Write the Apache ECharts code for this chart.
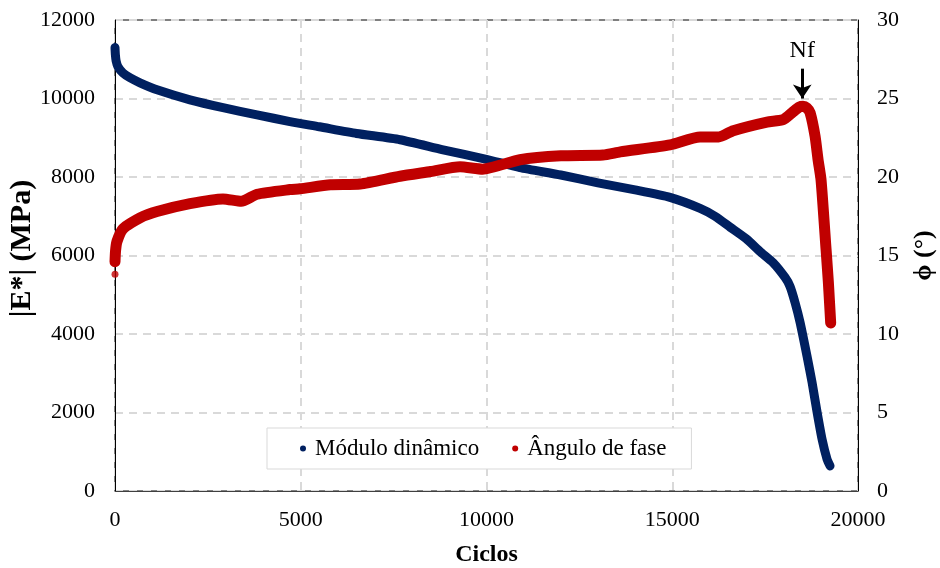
<!DOCTYPE html>
<html>
<head>
<meta charset="utf-8">
<title>Módulo dinâmico e ângulo de fase</title>
<script src="https://cdn.jsdelivr.net/npm/echarts@6/dist/echarts.min.js"></script>
<style>
  html, body { margin: 0; padding: 0; background: #fff; }
  #chart { width: 940px; height: 568px; }
</style>
</head>
<body>
<div id="chart"></div>
<script>
// Dynamic modulus |E*| (MPa) against number of cycles
const cyclesModulus = [0, 10, 30, 80, 215, 400, 673, 1131, 2019, 2907, 3823, 4711, 5500, 6500, 7672, 8800, 10000, 10900, 12000, 13000, 14000, 14940, 15750, 16150, 16560, 17000, 17363, 17713, 18037, 18171, 18306, 18440, 18629, 18763, 18898, 19032, 19167, 19248];
const modulusMPa = [11300, 11120, 10960, 10810, 10650, 10530, 10400, 10220, 9965, 9765, 9585, 9410, 9280, 9110, 8950, 8700, 8450, 8240, 8050, 7850, 7670, 7480, 7200, 7000, 6720, 6420, 6100, 5820, 5440, 5211, 4800, 4300, 3430, 2770, 2010, 1320, 810, 640];

// Phase angle (degrees) against number of cycles
const cyclesPhase = [0, 15, 54, 215, 673, 1131, 2019, 2907, 3400, 3823, 4711, 4980, 5800, 6600, 7672, 8500, 9287, 9900, 10900, 12000, 13137, 13600, 14940, 15750, 16250, 16640, 17551, 17982, 18250, 18420, 18520, 18620, 18710, 18844, 18925, 19006, 19140, 19202, 19229, 19265];
const phaseDeg = [14.6, 15.3, 15.9, 16.7, 17.4, 17.8, 18.3, 18.6, 18.45, 18.9, 19.2, 19.25, 19.5, 19.55, 20.05, 20.35, 20.65, 20.5, 21.1, 21.35, 21.4, 21.6, 22.05, 22.55, 22.55, 22.95, 23.5, 23.65, 24.15, 24.45, 24.5, 24.4, 24.1, 22.6, 21.1, 19.8, 15.4, 13.3, 12.2, 10.7];

// First reading of the phase angle, detached from the rest
const phaseFirst = [[0, 13.8]];

// Failure point Nf
const nfCycle = 18500;
const nfArrowFrom = 26.9;
const nfArrowTo = 25.0;

const xTicks = { min: 0, max: 20000, interval: 5000 };
const leftTicks = { min: 0, max: 12000, interval: 2000 };
const rightTicks = { min: 0, max: 30, interval: 5 };

const BLUE = '#002060';
const RED = '#c00000';
const FONT = 'Liberation Serif';

const chart = echarts.init(document.getElementById('chart'), null, { renderer: 'canvas' });

const gridLine = { show: true, lineStyle: { color: '#d9d9d9', width: 2, type: [8, 6] } };
const plain = v => String(v);

chart.setOption({
  animation: false,
  textStyle: { fontFamily: FONT, color: '#000' },
  grid: {
    left: 115, right: 82, top: 20, bottom: 77,
    containLabel: false,
    outerBoundsMode: 'none',
    show: true, borderColor: '#000', borderWidth: 1, backgroundColor: 'transparent'
  },
  legend: {
    left: 267, top: 428,
    padding: [9, 25, 9, 33],
    itemGap: 33,
    icon: 'circle',
    itemWidth: 14, itemHeight: 6,
    symbolKeepAspect: true,
    borderColor: '#d9d9d9', borderWidth: 1,
    backgroundColor: '#fff',
    textStyle: { fontFamily: FONT, fontSize: 23, color: '#000' },
    data: ['Módulo dinâmico', 'Ângulo de fase']
  },
  xAxis: {
    type: 'value',
    min: xTicks.min, max: xTicks.max, interval: xTicks.interval,
    name: 'Ciclos', nameLocation: 'middle', nameGap: 52, nameMoveOverlap: false,
    nameTextStyle: { fontFamily: FONT, fontSize: 24, fontWeight: 'bold', color: '#000' },
    axisLine: { show: true, lineStyle: { color: '#404040', width: 1 } },
    axisTick: { show: false },
    axisLabel: { fontFamily: FONT, fontSize: 22, color: '#000', margin: 18, formatter: plain },
    splitLine: gridLine
  },
  yAxis: [
    {
      type: 'value', position: 'left',
      min: leftTicks.min, max: leftTicks.max, interval: leftTicks.interval,
      name: '|E*| (MPa)', nameLocation: 'middle', nameGap: 78, nameRotate: 90, nameMoveOverlap: false,
      nameTextStyle: { fontFamily: FONT, fontSize: 30, fontWeight: 'bold', color: '#000', padding: [0, 0, 0, 14] },
      axisLine: { show: true, lineStyle: { color: '#000', width: 1 } },
      axisTick: { show: false },
      axisLabel: { fontFamily: FONT, fontSize: 22, color: '#000', margin: 20, formatter: plain },
      splitLine: gridLine
    },
    {
      type: 'value', position: 'right',
      min: rightTicks.min, max: rightTicks.max, interval: rightTicks.interval,
      name: 'ϕ (°)', nameLocation: 'middle', nameGap: 53, nameRotate: 90, nameMoveOverlap: false,
      nameTextStyle: { fontFamily: FONT, fontSize: 26, fontWeight: 'bold', color: '#000' },
      axisLine: { show: true, lineStyle: { color: '#000', width: 1 } },
      axisTick: { show: false },
      axisLabel: { fontFamily: FONT, fontSize: 22, color: '#000', margin: 19, formatter: plain },
      splitLine: { show: false }
    }
  ],
  series: [
    {
      name: 'Módulo dinâmico',
      type: 'line',
      yAxisIndex: 0,
      data: cyclesModulus.map((c, i) => [c, modulusMPa[i]]),
      smooth: 0.2,
      showSymbol: false,
      symbol: 'circle',
      color: BLUE,
      lineStyle: { color: BLUE, width: 9, cap: 'round', join: 'round' },
      z: 2
    },
    {
      name: 'Ângulo de fase',
      type: 'line',
      yAxisIndex: 1,
      data: cyclesPhase.map((c, i) => [c, phaseDeg[i]]),
      smooth: 0.2,
      showSymbol: false,
      symbol: 'circle',
      color: RED,
      lineStyle: { color: RED, width: 11, cap: 'round', join: 'round' },
      z: 3,
      markLine: {
        silent: true,
        symbol: ['none', 'arrow'],
        symbolSize: [14, 14],
        lineStyle: { color: '#000', width: 3, type: 'solid' },
        label: {
          show: true, position: 'start', formatter: 'Nf',
          fontFamily: FONT, fontSize: 24, color: '#000', distance: 6
        },
        data: [[
          { coord: [nfCycle, nfArrowFrom] },
          { coord: [nfCycle, nfArrowTo] }
        ]]
      }
    },
    {
      name: 'Ângulo de fase',
      type: 'scatter',
      yAxisIndex: 1,
      data: phaseFirst,
      symbol: 'circle',
      symbolSize: 7,
      itemStyle: { color: RED },
      z: 3
    }
  ]
});
</script>
</body>
</html>
